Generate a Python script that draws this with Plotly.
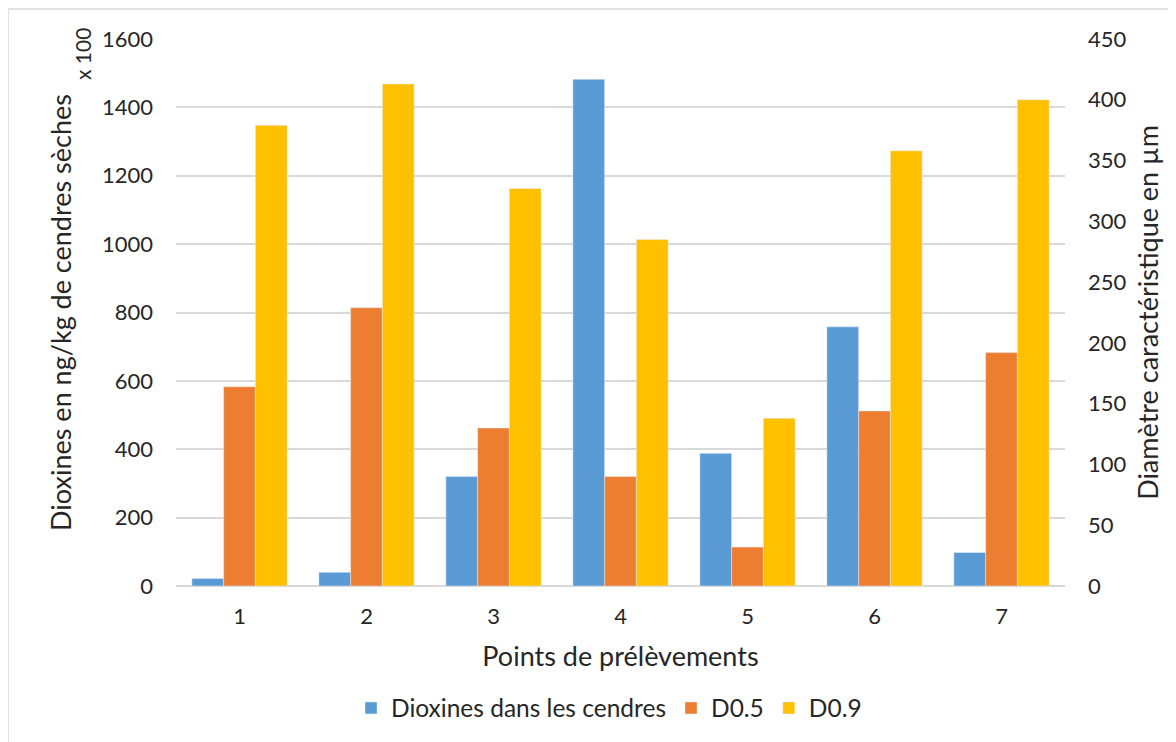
import plotly.graph_objects as go

categories = ["1", "2", "3", "4", "5", "6", "7"]
dioxines = [22, 40, 320, 1482, 388, 758, 98]          # left axis (x 100 ng/kg)
d05 = [164, 229, 130, 90, 32, 144, 192]               # right axis (µm)
d09 = [379, 413, 327, 285, 138, 358, 400]             # right axis (µm)

left_ticks = [0, 200, 400, 600, 800, 1000, 1200, 1400, 1600]
right_ticks = [0, 50, 100, 150, 200, 250, 300, 350, 400, 450]

BLUE = "#5B9BD5"
ORANGE = "#ED7D31"
YELLOW = "#FFC000"
GRID = "#d9d9d9"
TXT = "#262626"
FONT = "Lato"

OFF = 8  # page body margin
W, H = 1176, 742
# target plot area on the page: x 176..1065, y 39..586
L = 176 - OFF
T = 39 - OFF
R = W - (1065 - OFF)
B = H - (586 - OFF)
pw, ph = W - L - R, H - T - B


def px(x):
    return (x - OFF - L) / pw


def py(y):
    return (H - B - (y - OFF)) / ph


fig = go.Figure()
fig.add_trace(go.Bar(x=categories, y=dioxines, name="Dioxines dans les cendres",
                     marker_color=BLUE, offsetgroup="a", yaxis="y"))
fig.add_trace(go.Bar(x=categories, y=d05, name="D0.5",
                     marker_color=ORANGE, offsetgroup="b", yaxis="y2"))
fig.add_trace(go.Bar(x=categories, y=d09, name="D0.9",
                     marker_color=YELLOW, offsetgroup="c", yaxis="y2"))

fig.update_layout(
    width=W, height=H,
    margin=dict(l=L, r=R, t=T, b=B, pad=0, autoexpand=False),
    paper_bgcolor="white", plot_bgcolor="white",
    font=dict(family=FONT, color=TXT, size=22),
    barmode="group", bargap=0.25, bargroupgap=0,
    xaxis=dict(type="category", showgrid=False, showline=False, zeroline=False,
               automargin=False,
               ticks="", ticklabelstandoff=15, tickfont=dict(size=22),
               title=dict(text="Points de prélèvements", font=dict(size=27), standoff=19)),
    yaxis=dict(range=[0, 1600], tickvals=left_ticks, showgrid=True, gridcolor=GRID,
               gridwidth=1.5, zeroline=True, zerolinecolor=GRID, zerolinewidth=2,
               automargin=False,
               showline=False, ticks="", ticklabelstandoff=22, tickfont=dict(size=22),
               title=dict(text="Dioxines en ng/kg de cendres sèches", font=dict(size=27),
                          standoff=22)),
    yaxis2=dict(range=[0, 450], tickvals=right_ticks, overlaying="y", side="right",
                showgrid=False, zeroline=False, showline=False, ticks="",
                automargin=False,
                ticklabelstandoff=22, tickfont=dict(size=22),
                title=dict(text="Diamètre caractéristique en µm", font=dict(size=27),
                           standoff=13)),
    legend=dict(orientation="h", x=px(609), xanchor="center", y=py(708), yanchor="middle",
                font=dict(size=24.5), traceorder="normal", itemclick=False),
    showlegend=True,
)

fig.add_annotation(text="x 100", xref="paper", yref="paper", x=px(83), y=py(54),
                   textangle=-90, showarrow=False, font=dict(size=21, color=TXT),
                   xanchor="center", yanchor="middle")

fig.add_shape(type="rect", xref="paper", yref="paper",
              x0=px(8), x1=px(1200), y0=py(760), y1=py(9),
              line=dict(color=GRID, width=1.5), fillcolor="rgba(0,0,0,0)", layer="below")

fig.write_html("out.html")
